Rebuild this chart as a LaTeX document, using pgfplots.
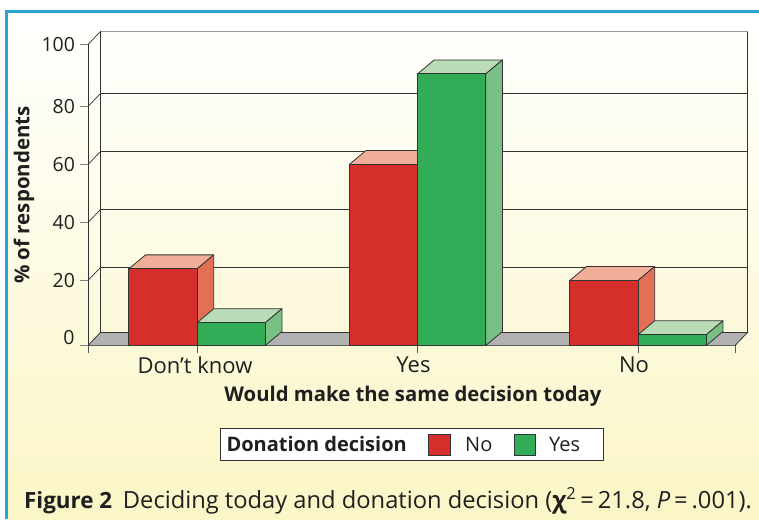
\documentclass[border=0pt]{standalone}
\usepackage{pgfplots}
\pgfplotsset{compat=1.18}
\usepackage{fontspec}
\setmainfont{Open Sans}
\definecolor{cream}{HTML}{FBF6C6}
\definecolor{framecol}{HTML}{2AA3D0}
\definecolor{dk}{HTML}{333333}
\definecolor{rf}{HTML}{D42F2B}
\definecolor{rt}{HTML}{F0AE98}
\definecolor{rs}{HTML}{E27054}
\definecolor{gf}{HTML}{32AC56}
\definecolor{gt}{HTML}{B9DBB5}
\definecolor{gs}{HTML}{78C084}
\definecolor{floorc}{HTML}{B2B2B2}
\pgfplotsset{
  common/.style={
    scale only axis, width=647pt, height=301pt,
    xmin=-0.4945, xmax=2.44, ymin=0, ymax=100,
    ytick={0,20,40,60,80,100},
    y coord trafo/.code={\begingroup\pgfkeys{/pgf/fpu=true,/pgf/fpu/output format=fixed}\pgfmathparse{##1<=20 ? 3.25*##1 : (##1<=80 ? 65+(##1-20)*2.9 : 239+(##1-80)*3.1)}\xdef\mytrafores{\pgfmathresult}\endgroup\let\pgfmathresult\mytrafores},
  }
}
\newcommand{\threeD}[5]{%
  \pgfmathsetmacro{\xl}{#1}\pgfmathsetmacro{\xr}{#1+0.3095}%
  \edef\temp{\noexpand\draw[dk,fill=#4,line width=0.8pt,line join=round] (axis cs:\xl,#2) -- ++(16.7pt,14pt) -- ++(68.2pt,0pt) -- ++(-16.7pt,-14pt) -- cycle;
  \noexpand\draw[dk,fill=#5,line width=0.8pt,line join=round] (axis cs:\xr,#2) -- ++(16.7pt,14pt) -- ([shift={(16.7pt,14pt)}]axis cs:\xr,0) -- (axis cs:\xr,0) -- cycle;}\temp
  \addplot[ybar,bar width=68.2pt,bar shift=34.1pt,fill=#3,draw=dk,line width=0.9pt] coordinates {(#1,#2)};
}
\begin{document}
\begin{tikzpicture}[x=1pt,y=1pt]
\useasboundingbox (0,0) rectangle (759,519);
\fill[white] (0,0) rectangle (759,519);
\shade[top color=white,bottom color=cream] (8,0) rectangle (759,506.5);
\fill[framecol] (5.3,0) rectangle (8,509);
\fill[framecol] (5.3,506.3) rectangle (759,509);
% back wall
\begin{axis}[common, at={(100.5pt,186.5pt)}, anchor=south west,
  axis line style={dk,line width=0.8pt}, ymajorgrids, grid style={dk,line width=0.8pt},
  xtick=\empty, yticklabels={}, tick style={draw=none}]
\end{axis}
\draw[gray!80,line width=0.9pt] (100.5,488) -- (747.5,488);
% front
\begin{axis}[common, at={(88pt,173.5pt)}, anchor=south west, clip=false,
  axis lines=left, axis line style={-,dk,line width=0.8pt},
  xtick={-0.4945,0,1,2,2.44}, xticklabels={,\hspace{4pt}Don’t know,Yes\hspace{6pt},No,},
  yticklabels={,20,40,60,80,100},
  tick align=outside,
  ytick style={gray,line width=1pt}, xtick style={gray!70!black,line width=0.9pt},
  major tick length=8pt,
  tick label style={text=black!88},
  yticklabel style={font=\fontsize{19.5}{20}\selectfont,xshift=-1.5pt,yshift=-0.5pt},
  xticklabel style={font=\fontsize{22}{22}\selectfont,xshift=-4pt,yshift=0pt},
]
\fill[floorc] (axis cs:-0.4945,0) -- ++(12.5pt,13pt) -- ++(647pt,0pt) -- ++(-12.5pt,-13pt) -- cycle;
\draw[dk,line width=0.8pt] (axis cs:-0.4945,0) -- ++(12.5pt,13pt) -- ++(647pt,0pt) -- ++(-12.5pt,-13pt);
\draw[dk,line width=0.7pt] (axis cs:-0.4945,20) -- ++(12.5pt,13pt);
\draw[dk,line width=0.7pt] (axis cs:-0.4945,40) -- ++(12.5pt,13pt);
\draw[dk,line width=0.7pt] (axis cs:-0.4945,60) -- ++(12.5pt,13pt);
\draw[dk,line width=0.7pt] (axis cs:-0.4945,80) -- ++(12.5pt,13pt);
\draw[dk,line width=0.7pt] (axis cs:-0.4945,100) -- ++(12.5pt,13pt);
\threeD{-0.3095}{24}{rf}{rt}{rs}
\threeD{0}{7}{gf}{gt}{gs}
\threeD{0.6905}{60}{rf}{rt}{rs}
\threeD{1}{90.5}{gf}{gt}{gs}
\threeD{1.6905}{20}{rf}{rt}{rs}
\threeD{2}{3.3}{gf}{gt}{gs}
\node[anchor=east,font=\fontsize{19.5}{20}\selectfont,text=black!88] at (axis cs:-0.4945,0) [xshift=-10pt,yshift=8pt] {0};
\end{axis}
\node[rotate=90,font=\bfseries\fontsize{20.5}{22}\selectfont,text=black!88] at (24,324) {\% of respondents};
\node[font=\bfseries\fontsize{20.3}{22}\selectfont,text=black!88] at (413,123) {Would make the same decision today};
% legend
\draw[dk,fill=white,line width=0.8pt] (220.5,59) rectangle (603.5,91);
\node[anchor=west,inner sep=0pt,font=\bfseries\fontsize{20}{22}\selectfont,text=black!88] at (226.3,75) {Donation decision};
\draw[dk,fill=rf,line width=0.8pt] (428.5,64) rectangle (450,85);
\node[anchor=west,inner sep=0pt,font=\fontsize{20}{22}\selectfont,text=black!88] at (465,75) {No};
\draw[dk,fill=gf,line width=0.8pt] (514,64) rectangle (535,85);
\node[anchor=west,inner sep=0pt,font=\fontsize{20}{22}\selectfont,text=black!88] at (549,75) {Yes};
% caption
\node[anchor=west,inner sep=0pt,font=\fontsize{23.7}{24}\selectfont,text=black!88] at (24,18) {{\fontsize{22.4}{24}\selectfont\textbf{Figure 2}}\hspace{0.45em}Deciding today and donation decision (\textbf{χ}\textsuperscript{2}\,=\,21.8, \textit{P}\,=\,.001).};
\end{tikzpicture}
\end{document}
